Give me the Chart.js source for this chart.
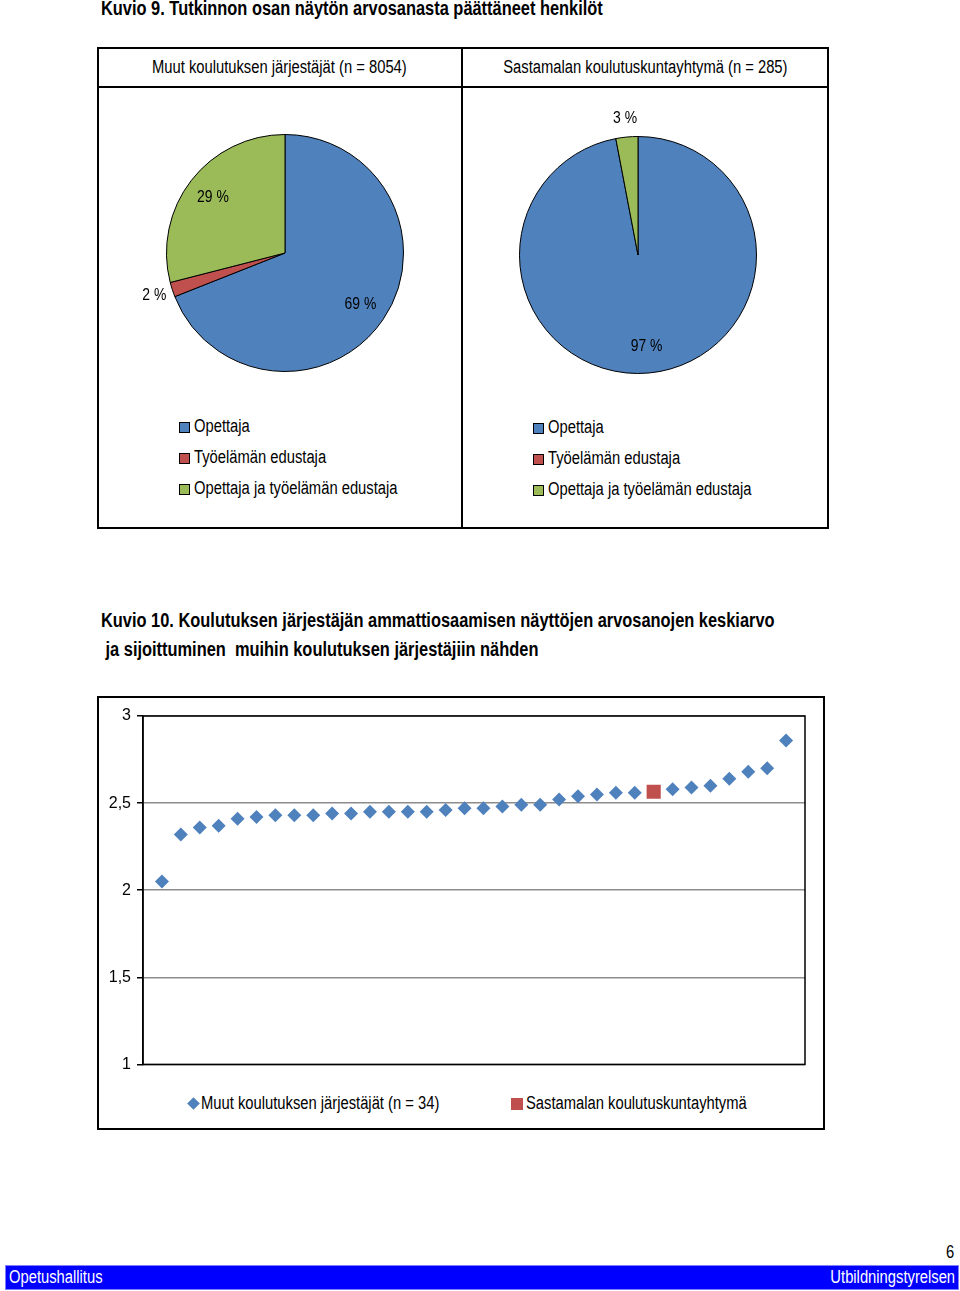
<!DOCTYPE html>
<html>
<head>
<meta charset="utf-8">
<script src="https://cdn.jsdelivr.net/npm/chart.js@4"></script>
<style>
  body { margin: 0; width: 960px; height: 1291px; position: relative; background: #fff; overflow: hidden;
         font-family: "Liberation Sans", Arial, sans-serif; color: #000; }
  .abs { position: absolute; }
  .nar { display: inline-block; transform: scaleX(0.82); transform-origin: 0 50%; white-space: nowrap; }
  .title { font-weight: bold; font-size: 20px; line-height: 29px; white-space: nowrap; }
  .box { border: 2px solid #000; box-sizing: border-box; }
  .head { font-size: 18px; text-align: center; line-height: 40px; }
  .head .nar { transform-origin: 50% 50%; }
  .leg { font-size: 18px; line-height: 31px; white-space: nowrap; }
  .leg span.sw { display: inline-block; width: 9px; height: 9px; border: 1px solid #000; margin-right: 4px; vertical-align: -1px; }
  .footer { left: 6px; top: 1266px; width: 952px; height: 23px; background: #0000ff; box-shadow: 0 0 0 1px #8080ff;
            color: #fff; font-size: 18px; line-height: 23px; }
</style>
</head>
<body>
<div class="abs title" style="left:101px; top:-6px;"><span class="nar">Kuvio 9. Tutkinnon osan näytön arvosanasta päättäneet henkilöt</span></div>

<div class="abs box" style="left:97px; top:47px; width:732px; height:482px;"></div>
<div class="abs" style="left:97px; top:86px; width:732px; height:2px; background:#000;"></div>
<div class="abs" style="left:461px; top:47px; width:2px; height:482px; background:#000;"></div>
<div class="abs head" style="left:97px; top:47px; width:365px;"><span class="nar" id="head0"></span></div>
<div class="abs head" style="left:462px; top:47px; width:367px;"><span class="nar" id="head1"></span></div>

<canvas id="pie0" class="abs" width="300" height="300" style="left:135px; top:103px;"></canvas>
<canvas id="pie1" class="abs" width="300" height="300" style="left:488px; top:105px;"></canvas>
<div class="abs leg" id="leg0" style="left:179px; top:411px;"></div>
<div class="abs leg" id="leg1" style="left:533px; top:412px;"></div>

<div class="abs title" style="left:101px; top:606px;"><span class="nar">Kuvio 10. Koulutuksen järjestäjän ammattiosaamisen näyttöjen arvosanojen keskiarvo</span><br><span class="nar">&nbsp;ja sijoittuminen&nbsp; muihin koulutuksen järjestäjiin nähden</span></div>

<div class="abs box" style="left:97px; top:696px; width:728px; height:434px;"></div>
<canvas id="scatter" class="abs" width="728" height="384" style="left:97px; top:696px;"></canvas>
<div class="abs leg" id="leg2" style="left:186px; top:1088px;"></div>

<div class="abs" style="left:946px; top:1242px; font-size:18px;"><span class="nar">6</span></div>
<div class="abs footer">
  <span class="nar" style="position:absolute; left:3px;">Opetushallitus</span>
  <span class="nar" style="position:absolute; right:3px; transform-origin:100% 50%;">Utbildningstyrelsen</span>
</div>

<script>
// Kuvio 9 data
const pieTitles = ["Muut koulutuksen järjestäjät (n = 8054)", "Sastamalan koulutuskuntayhtymä (n = 285)"];
const pieLabels = ["Opettaja", "Työelämän edustaja", "Opettaja ja työelämän edustaja"];
const muutShares = [69, 2, 29];
const sastamalaShares = [97, 0, 3];

// Kuvio 10 data
const scatterLegend = ["Muut koulutuksen järjestäjät (n = 34)", "Sastamalan koulutuskuntayhtymä"];
const muutAverages = [2.05, 2.32, 2.36, 2.37, 2.41, 2.42, 2.43, 2.43, 2.43, 2.44, 2.44,
  2.45, 2.45, 2.45, 2.45, 2.46, 2.47, 2.47, 2.48, 2.49, 2.49, 2.52, 2.54, 2.55, 2.56, 2.56,
  2.58, 2.59, 2.60, 2.64, 2.68, 2.70, 2.86];
const sastamalaAverage = 2.565;
const sastamalaRank = 27;
const yMin = 1, yMax = 3, yStep = 0.5;

const pieColors = ["#4f81bd", "#c0504d", "#9bbb59"];
const fontFamily = '"Liberation Sans", Arial, sans-serif';

// percent labels, inside for big slices, outside for small ones
const pieLabelPlugin = {
  id: "pieLabels",
  afterDatasetsDraw(chart) {
    const ctx = chart.ctx;
    const meta = chart.getDatasetMeta(0);
    const values = chart.data.datasets[0].data;
    meta.data.forEach((arc, i) => {
      if (!values[i]) return;
      const p = arc.getProps(["x", "y", "startAngle", "endAngle", "outerRadius"], true);
      const mid = (p.startAngle + p.endAngle) / 2;
      const k = values[i] < 5 ? 1.16 : 0.77;
      ctx.save();
      ctx.font = "17px " + fontFamily;
      ctx.fillStyle = "#000";
      ctx.textAlign = "center";
      ctx.textBaseline = "middle";
      ctx.translate(p.x + Math.cos(mid) * p.outerRadius * k, p.y + Math.sin(mid) * p.outerRadius * k);
      ctx.scale(0.82, 1);
      ctx.fillText(values[i] + " %", 0, 0);
      ctx.restore();
    });
  },
};

const drawPie = function (id, values) {
  new Chart(document.getElementById(id), {
    type: "pie",
    data: {
      labels: pieLabels,
      datasets: [{ data: values, backgroundColor: pieColors, borderColor: "#000", borderWidth: 1 }],
    },
    options: {
      responsive: false,
      animation: false,
      layout: { padding: 31 },
      plugins: { legend: { display: false }, tooltip: { enabled: false } },
    },
    plugins: [pieLabelPlugin],
  });
};

const makeLegend = function (id) {
  let html = "";
  pieLabels.forEach((label, i) => {
    html += '<div><span class="sw" style="background:' + pieColors[i] + '"></span><span class="nar">' + label + "</span></div>";
  });
  document.getElementById(id).innerHTML = html;
};

// border round the plot area
const plotBorder = {
  id: "plotBorder",
  beforeDatasetsDraw(chart) {
    const a = chart.chartArea;
    const ctx = chart.ctx;
    ctx.save();
    ctx.strokeStyle = "#000";
    ctx.lineWidth = 1.5;
    ctx.strokeRect(a.left, a.top, a.right - a.left, a.bottom - a.top);
    ctx.restore();
  },
};

const drawScatter = function () {
  const muutPoints = [];
  let rank = 1;
  muutAverages.forEach((v) => {
    if (rank === sastamalaRank) rank++;
    muutPoints.push({ x: rank, y: v });
    rank++;
  });

  new Chart(document.getElementById("scatter"), {
    type: "scatter",
    data: {
      datasets: [
        {
          label: scatterLegend[0],
          data: muutPoints,
          pointStyle: "rectRot",
          pointRadius: 7,
          backgroundColor: "#4f81bd",
          borderWidth: 0,
        },
        {
          label: scatterLegend[1],
          data: [{ x: sastamalaRank, y: sastamalaAverage }],
          pointStyle: "rect",
          pointRadius: 10,
          backgroundColor: "#c0504d",
          borderWidth: 0,
        },
      ],
    },
    options: {
      responsive: false,
      animation: false,
      layout: { padding: { top: 20, bottom: 12, right: 20, left: 0 } },
      scales: {
        x: { type: "linear", min: 0, max: muutAverages.length + 2, display: false },
        y: {
          min: yMin,
          max: yMax,
          afterFit: (scale) => {
            scale.width = 46;
          },
          ticks: {
            stepSize: yStep,
            color: "#000",
            padding: 6,
            font: { size: 16, family: fontFamily },
            callback: (v) => String(v).replace(".", ","),
          },
          grid: { color: "#8c8c8c", tickColor: "#000", tickLength: 6, lineWidth: 1.5 },
          border: { color: "#000", width: 1.5 },
        },
      },
      plugins: { legend: { display: false }, tooltip: { enabled: false } },
    },
    plugins: [plotBorder],
  });

  document.getElementById("leg2").innerHTML =
    '<span style="display:inline-block;width:9px;height:9px;background:#4f81bd;transform:rotate(45deg);margin-left:3px;margin-right:3px;vertical-align:1px;"></span>' +
    '<span class="nar" style="width:240px;">' + scatterLegend[0] + "</span>" +
    '<span style="display:inline-block;width:12px;height:12px;background:#c0504d;margin-left:70px;margin-right:3px;vertical-align:-1px;"></span>' +
    '<span class="nar">' + scatterLegend[1] + "</span>";
};

document.getElementById("head0").textContent = pieTitles[0];
document.getElementById("head1").textContent = pieTitles[1];
drawPie("pie0", muutShares);
drawPie("pie1", sastamalaShares);
makeLegend("leg0");
makeLegend("leg1");
drawScatter();
</script>
</body>
</html>
